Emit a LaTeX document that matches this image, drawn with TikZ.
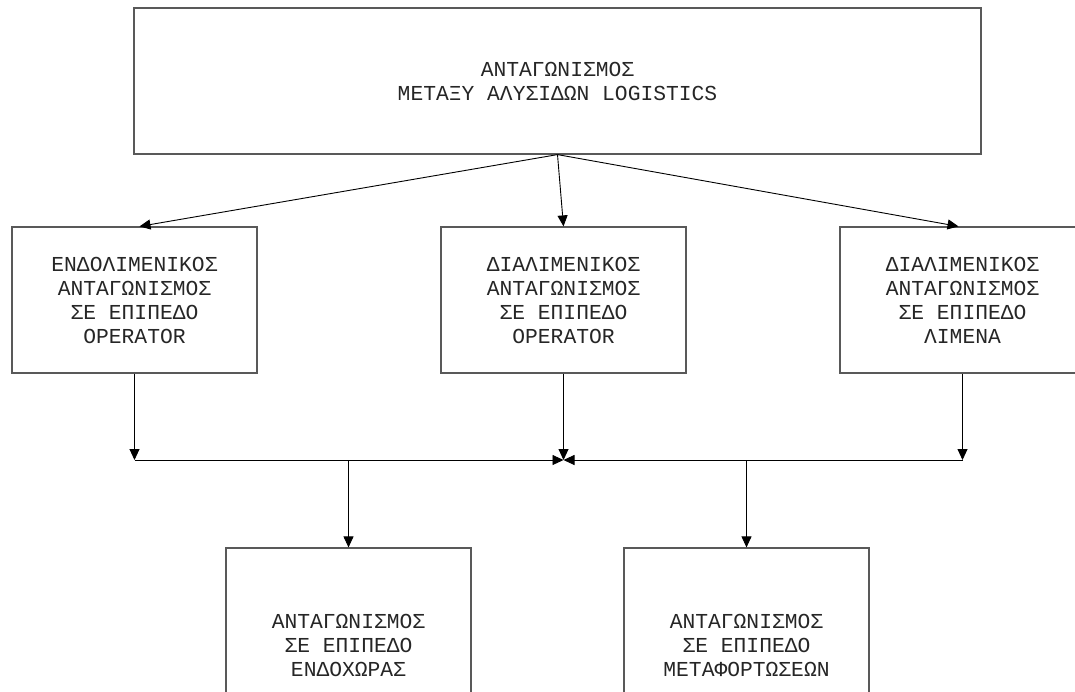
\documentclass[tikz,border=0pt]{standalone}
\usepackage{fontspec}
\newfontfamily\boxfont{Liberation Mono}
\usetikzlibrary{arrows.meta}

\begin{document}
\begin{tikzpicture}[x=1pt,y=-1pt,
  box/.style={draw=black!65,line width=1.2pt,fill=white,align=center,
    text=black!85,font=\boxfont\fontsize{21.3}{24}\selectfont,
    minimum width=245pt,minimum height=146pt,inner sep=0pt},
  arr/.style={-{Triangle[length=11pt,width=10pt]},line width=0.9pt}]
\useasboundingbox (0,0) rectangle (1075,691);
\clip (0,0) rectangle (1075,691);

\node[box,minimum width=847pt] (top) at (557.5,81) {ΑΝΤΑΓΩΝΙΣΜΟΣ\\ΜΕΤΑΞΥ ΑΛΥΣΙΔΩΝ LOGISTICS};

\node[box] (L) at (134.5,300) {ΕΝΔΟΛΙΜΕΝΙΚΟΣ\\ΑΝΤΑΓΩΝΙΣΜΟΣ\\ΣΕ ΕΠΙΠΕΔΟ\\OPERATOR};
\node[box] (M) at (563.5,300) {ΔΙΑΛΙΜΕΝΙΚΟΣ\\ΑΝΤΑΓΩΝΙΣΜΟΣ\\ΣΕ ΕΠΙΠΕΔΟ\\OPERATOR};
\node[box] (R) at (962.5,300) {ΔΙΑΛΙΜΕΝΙΚΟΣ\\ΑΝΤΑΓΩΝΙΣΜΟΣ\\ΣΕ ΕΠΙΠΕΔΟ\\ΛΙΜΕΝΑ};

\node[box,minimum height=194pt] (BL) at (348.5,645) {ΑΝΤΑΓΩΝΙΣΜΟΣ\\ΣΕ ΕΠΙΠΕΔΟ\\ΕΝΔΟΧΩΡΑΣ};
\node[box,minimum height=194pt] (BR) at (746.5,645) {ΑΝΤΑΓΩΝΙΣΜΟΣ\\ΣΕ ΕΠΙΠΕΔΟ\\ΜΕΤΑΦΟΡΤΩΣΕΩΝ};

\draw[arr] (top.south) -- ([xshift=5pt]L.north);
\draw[arr] (top.south) -- (M.north);
\draw[arr] (top.south) -- ([xshift=-4pt]R.north);

\coordinate (busy) at (0,460);
\coordinate (hub) at (M.south |- busy);
\draw[arr] (L.south) -- (L.south |- hub);
\draw[arr] (L.south |- hub) -- (hub);
\draw[arr] (M.south) -- (hub);
\draw[arr] (R.south) -- (R.south |- hub);
\draw[arr] (R.south |- hub) -- (hub);

\draw[arr] (BL.north |- hub) -- (BL.north);
\draw[arr] (BR.north |- hub) -- (BR.north);
\end{tikzpicture}
\end{document}
